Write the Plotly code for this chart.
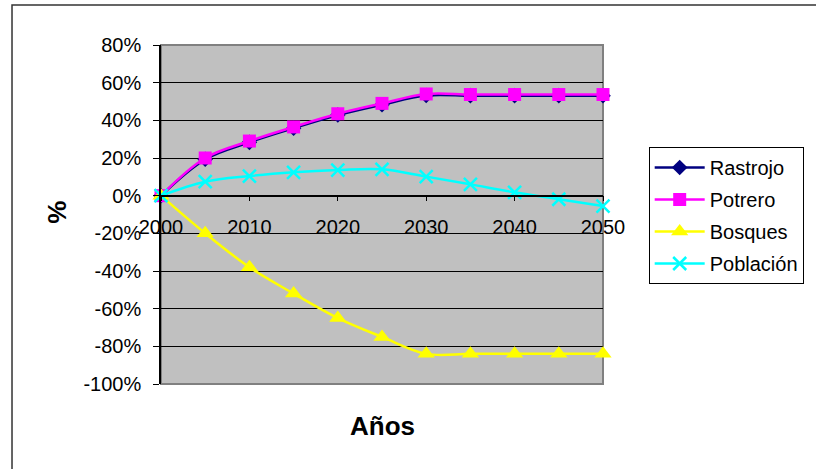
import plotly.graph_objects as go

years = [2000, 2005, 2010, 2015, 2020, 2025, 2030, 2035, 2040, 2045, 2050]
rastrojo = [0, 19.3, 28.3, 35.8, 42.8, 48.3, 53.2, 53.1, 53.1, 53.1, 53.1]
potrero = [0, 20, 29, 36.5, 43.5, 49, 54, 53.7, 53.7, 53.7, 53.7]
bosques = [0, -20, -38, -52, -65, -75, -84, -84, -84, -84, -84]
poblacion = [0, 7.4, 10.4, 12.4, 13.6, 14, 10.1, 6, 1.8, -1.9, -5.5]

y_tickvals = [-100, -80, -60, -40, -20, 0, 20, 40, 60, 80]
y_ticktext = ["-100%", "-80%", "-60%", "-40%", "-20%", "0%", "20%", "40%", "60%", "80%"]
x_tickvals = [2000, 2010, 2020, 2030, 2040, 2050]

series = [
    ("Rastrojo", rastrojo, "#000080", "diamond", 12),
    ("Potrero", potrero, "#FF00FF", "square", 13),
    ("Bosques", bosques, "#FFFF00", "triangle-up", 15),
    ("Población", poblacion, "#00FFFF", "x-thin", 13),
]

FONT = "Liberation Sans, Arial, sans-serif"

fig = go.Figure()
for name, vals, col, sym, sz in series:
    marker = dict(symbol=sym, size=sz, color=col)
    if sym == "x-thin":
        marker["line"] = dict(color=col, width=2.5)
    fig.add_trace(go.Scatter(
        x=years, y=vals, name=name, mode="lines+markers", legendgroup=name,
        line=dict(color=col, width=2.5, shape="spline", smoothing=1),
        marker=marker, cliponaxis=False,
    ))

L, R, T, B = 161, 210, 45, 85
W, H = 816, 469
pw, ph = W - L - R, H - T - B
ymin, ymax = -100, 80
zero_pos = (0 - ymin) / (ymax - ymin)

fig.update_layout(
    width=W, height=H,
    margin=dict(l=L, r=R, t=T, b=B),
    paper_bgcolor="white",
    plot_bgcolor="#C0C0C0",
    font=dict(family=FONT, size=19, color="black"),
    showlegend=True,
    legend=dict(
        x=(652 - L) / pw, y=(H - B - 147) / ph, xanchor="left", yanchor="top",
        bordercolor="black", borderwidth=1, bgcolor="white",
        font=dict(family=FONT, size=20, color="black"),
        tracegroupgap=3, itemwidth=50,
    ),
    xaxis=dict(
        range=[2000, 2050], tickvals=x_tickvals,
        showgrid=False, zeroline=False, showline=True, linecolor="black", linewidth=1.5,
        ticks="outside", ticklen=5, tickcolor="black", tickwidth=1,
        anchor="free", position=zero_pos, ticklabelstandoff=9,
        tickfont=dict(family=FONT, size=20),
    ),
    yaxis=dict(
        range=[ymin, ymax], tickvals=y_tickvals, ticktext=y_ticktext,
        showgrid=True, gridcolor="black", gridwidth=1, zeroline=False,
        showline=True, linecolor="black", linewidth=1.5,
        ticks="outside", ticklen=6, tickcolor="black", ticklabelstandoff=8,
        tickfont=dict(family=FONT, size=20),
    ),
    shapes=[
        dict(type="rect", xref="paper", yref="paper", x0=0, x1=1, y0=0, y1=1,
             line=dict(color="#808080", width=2), layer="below"),
        dict(type="rect", xref="paper", yref="paper",
             x0=(11 - L) / pw, x1=(W + 20 - L) / pw,
             y0=(H - B - (H + 20)) / ph, y1=(H - B - 5) / ph,
             line=dict(color="#333333", width=1.5), layer="below"),
    ],
    annotations=[
        dict(text="<b>Años</b>", xref="paper", yref="paper", x=0.5,
             y=(H - B - 426) / ph, xanchor="center", yanchor="middle",
             showarrow=False, font=dict(family=FONT, size=26)),
        dict(text="<b>%</b>", xref="paper", yref="paper", x=(56 - L) / pw,
             y=(H - B - 212) / ph, xanchor="center", yanchor="middle",
             showarrow=False, textangle=-90,
             font=dict(family=FONT, size=26)),
    ],
)

fig.write_html("out.html", config={"displayModeBar": False},
               post_script="document.body.style.margin='0';")
